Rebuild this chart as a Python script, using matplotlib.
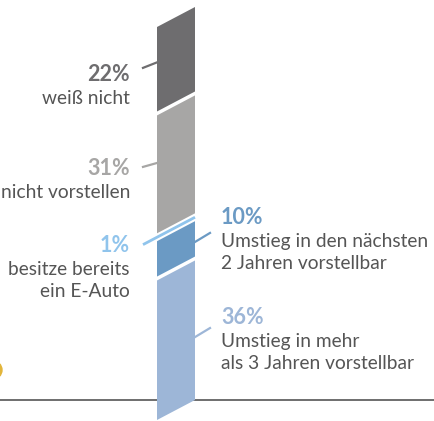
import matplotlib
matplotlib.use("Agg")
import matplotlib.pyplot as plt
from matplotlib.patches import Polygon, Ellipse

plt.rcParams["font.family"] = ["Lato", "DejaVu Sans"]

# data, bottom to top
shares = [36, 10, 1, 31, 22]
pct_labels = ["36%", "10%", "1%", "31%", "22%"]
texts = [
    ["Umstieg in mehr", "als 3 Jahren vorstellbar"],
    ["Umstieg in den nächsten", "2 Jahren vorstellbar"],
    ["besitze bereits", "ein E-Auto"],
    ["nicht vorstellen"],
    ["weiß nicht"],
]
colors = ["#9db6d7", "#6b9ac4", "#90c4ec", "#a7a6a5", "#6e6d6f"]
sides = ["right", "right", "left", "left", "left"]

# layout (x in px, y in percent units)
px_per_unit = 3.93
bar_l, bar_r = 157, 195
slant = 20 / px_per_unit
gap = 0.5
label_y = [26.0, 51.4, 44.5, 64.1, 87.8]
leader_bar_y = [21.1, 45.3, 46.5, 65.4, 91.0]
leader_out_y = [23.4, 47.6, 44.6, 64.4, 89.6]
text_col = "#555555"

fig = plt.figure(figsize=(4.35, 4.21), dpi=100)
ax = fig.add_axes([0, 0, 1, 1])
ax.set_xlim(0, 435)
ax.set_ylim(-1 / px_per_unit, 420 / px_per_unit)
ax.axis("off")

# baseline
ax.plot([0, 435], [slant, slant], color="#555555", lw=1.2, zorder=1)

# partially visible marker at the left edge
ax.add_patch(Ellipse((-7, (420 - 370) / px_per_unit), 18, 18 / px_per_unit,
                     color="#e2b53a", zorder=1))

bottom = 0
for i, s in enumerate(shares):
    top = bottom + s
    if s < 2:
        mid = (bottom + top) / 2
        ax.plot([143, bar_r], [mid - (bar_l - 143) * slant / (bar_r - bar_l), mid + slant],
                color=colors[i], lw=2.0, solid_capstyle="butt", zorder=3)
    else:
        b = bottom + (gap if bottom > 0 else 0)
        t = top - (gap if top < 100 else 0)
        poly = Polygon([(bar_l, b), (bar_r, b + slant), (bar_r, t + slant), (bar_l, t)],
                       closed=True, facecolor=colors[i], edgecolor="none", zorder=2)
        ax.add_patch(poly)
        if sides[i] == "left":
            ax.plot([143, bar_l], [leader_out_y[i], leader_bar_y[i]],
                    color=colors[i], lw=1.6, zorder=3)
        else:
            ax.plot([bar_r, 210], [leader_bar_y[i], leader_out_y[i]],
                    color=colors[i], lw=1.6, zorder=3)

    if sides[i] == "left":
        tx, ha = 130, "right"
    else:
        tx, ha = 221, "left"
    ax.text(tx, label_y[i], pct_labels[i], ha=ha, va="center", fontsize=15.5,
            fontweight="bold", color=colors[i])
    for k, line in enumerate(texts[i]):
        ax.text(tx, label_y[i] - (24 + 22 * k) / px_per_unit, line, ha=ha,
                va="center", fontsize=13.8, color=text_col)
    bottom = top

fig.savefig("out.png", dpi=100)
